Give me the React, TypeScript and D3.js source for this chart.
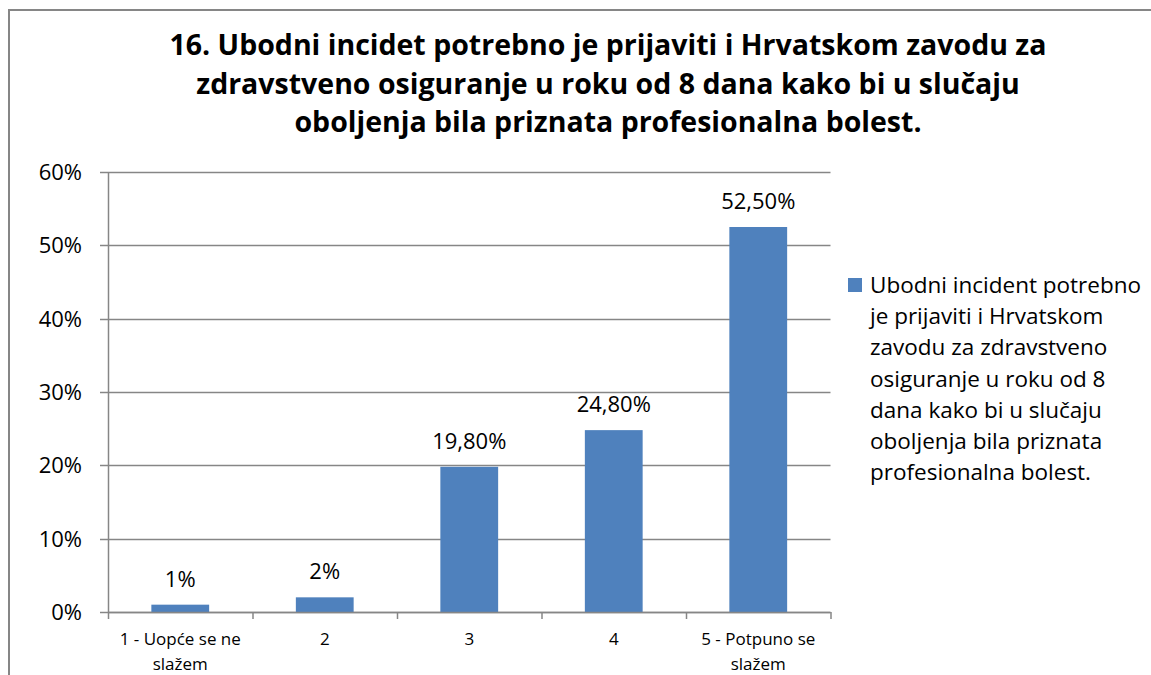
import React, { useEffect, useRef } from 'react';
import * as d3 from 'd3';

const titleLines = [
  '16. Ubodni incidet potrebno je prijaviti i Hrvatskom zavodu za',
  'zdravstveno osiguranje u roku od 8 dana kako bi u slučaju',
  'oboljenja bila priznata profesionalna bolest.',
];
const categories = ['1 - Uopće se ne slažem', '2', '3', '4', '5 - Potpuno se slažem'];
const categoryLines = [['1 - Uopće se ne', 'slažem'], ['2'], ['3'], ['4'], ['5 - Potpuno se', 'slažem']];
const values = [1, 2, 19.8, 24.8, 52.5];
const valueLabels = ['1%', '2%', '19,80%', '24,80%', '52,50%'];
const yTicks = [0, 10, 20, 30, 40, 50, 60];
const legendLines = [
  'Ubodni incident potrebno',
  'je prijaviti i Hrvatskom',
  'zavodu za zdravstveno',
  'osiguranje u roku od 8',
  'dana kako bi u slučaju',
  'oboljenja bila priznata',
  'profesionalna bolest.',
];

const W = 1151;
const H = 675;
const FONT = '"Open Sans", "Noto Sans", sans-serif';
const GRAY = '#868686';
const BAR = '#4F81BD';

const App: React.FC = () => {
  const svgRef = useRef<SVGSVGElement>(null);

  useEffect(() => {
    // no scrollbars on the page
    document.documentElement.style.overflow = 'hidden';
    document.body.style.overflow = 'hidden';

    if (!svgRef.current) return;
    const svg = d3.select(svgRef.current);
    svg.selectAll('*').remove();

    const plot = { left: 108, right: 830.5, top: 172, bottom: 612 };

    // chart border: only the left and top edges are inside the picture
    svg.append('path')
      .attr('d', `M9,${H} V10 H${W}`)
      .attr('fill', 'none').attr('stroke', GRAY).attr('stroke-width', 2);

    // title
    const title = svg.append('text')
      .attr('text-anchor', 'middle')
      .attr('font-family', FONT)
      .attr('font-weight', 'bold')
      .attr('font-size', 28.5)
      .attr('fill', '#000');
    titleLines.forEach((t, i) => {
      title.append('tspan').attr('x', 608).attr('y', 55 + i * 38.5).text(t);
    });

    const x = d3.scaleBand().domain(categories).range([plot.left, plot.right]).paddingInner(0.6).paddingOuter(0.3);
    const step = (plot.right - plot.left) / categories.length;
    const y = d3.scaleLinear().domain([0, 60]).range([plot.bottom, plot.top]);

    // gridlines + y ticks
    const g = svg.append('g');
    yTicks.forEach(t => {
      g.append('line')
        .attr('x1', plot.left - 8).attr('x2', plot.right)
        .attr('y1', Math.round(y(t)) + 0.5).attr('y2', Math.round(y(t)) + 0.5)
        .attr('stroke', GRAY).attr('stroke-width', 1.5);
      g.append('text')
        .attr('x', 82).attr('y', y(t) + 8)
        .attr('text-anchor', 'end')
        .attr('font-family', FONT).attr('font-size', 22).attr('fill', '#000')
        .text(`${t}%`);
    });

    // y axis line
    g.append('line')
      .attr('x1', plot.left + 0.5).attr('x2', plot.left + 0.5)
      .attr('y1', plot.top).attr('y2', plot.bottom)
      .attr('stroke', GRAY).attr('stroke-width', 1.5);

    // bars
    g.selectAll('.bar')
      .data(values)
      .enter()
      .append('rect')
      .attr('class', 'bar')
      .attr('x', (_, i) => x(categories[i])!)
      .attr('width', x.bandwidth())
      .attr('y', d => y(d))
      .attr('height', d => plot.bottom - y(d))
      .attr('fill', BAR);

    // x axis line and category ticks
    g.append('line')
      .attr('x1', plot.left).attr('x2', plot.right)
      .attr('y1', plot.bottom + 0.5).attr('y2', plot.bottom + 0.5)
      .attr('stroke', GRAY).attr('stroke-width', 1.5);
    d3.range(categories.length + 1).forEach(i => {
      const xx = plot.left + i * step;
      g.append('line')
        .attr('x1', xx + 0.5).attr('x2', xx + 0.5)
        .attr('y1', plot.bottom).attr('y2', plot.bottom + 7)
        .attr('stroke', GRAY).attr('stroke-width', 1.5);
    });

    // value labels
    values.forEach((v, i) => {
      g.append('text')
        .attr('x', x(categories[i])! + x.bandwidth() / 2)
        .attr('y', y(v) - 18)
        .attr('text-anchor', 'middle')
        .attr('font-family', FONT).attr('font-size', 22).attr('fill', '#000')
        .text(valueLabels[i]);
    });

    // category labels
    categoryLines.forEach((lines, i) => {
      const t = g.append('text')
        .attr('text-anchor', 'middle')
        .attr('font-family', FONT).attr('font-size', 17).attr('fill', '#000');
      lines.forEach((l, j) => {
        t.append('tspan')
          .attr('x', x(categories[i])! + x.bandwidth() / 2)
          .attr('y', 645 + j * 25)
          .text(l);
      });
    });

    // legend
    svg.append('rect')
      .attr('x', 848).attr('y', 278).attr('width', 14).attr('height', 14)
      .attr('fill', BAR);
    const leg = svg.append('text')
      .attr('font-family', FONT).attr('font-size', 22.5).attr('fill', '#000');
    legendLines.forEach((l, i) => {
      leg.append('tspan').attr('x', 870).attr('y', 293 + i * 31.2).text(l);
    });
  }, []);

  return (
    <svg
      ref={svgRef}
      width={W}
      height={H}
      viewBox={`0 0 ${W} ${H}`}
      style={{ position: 'absolute', left: 0, top: 0, display: 'block', background: 'white', overflow: 'hidden' }}
    />
  );
};

export default App;
